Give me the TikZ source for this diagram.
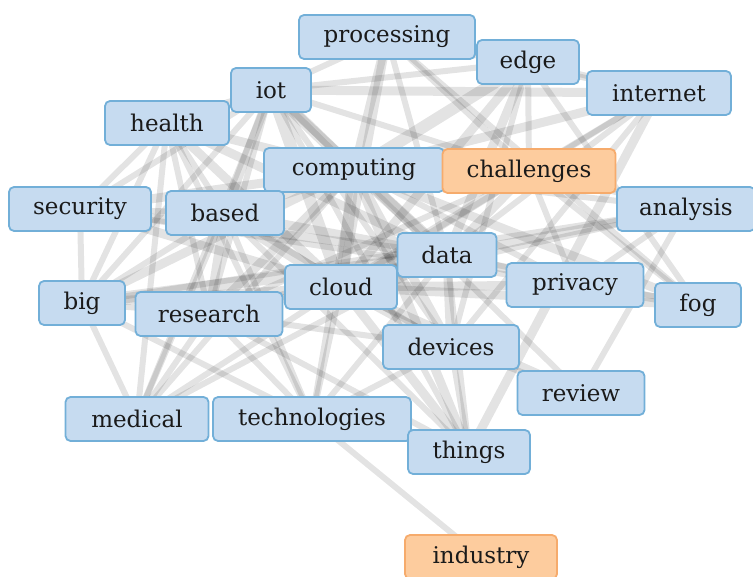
\documentclass[tikz,border=0pt]{standalone}
\usepackage{fontspec}
\setmainfont{DejaVu Serif}
\usetikzlibrary{backgrounds}
\definecolor{kwfill}{HTML}{C6DBF0}
\definecolor{kwline}{HTML}{72AFD8}
\definecolor{hotfill}{HTML}{FDCC9E}
\definecolor{hotline}{HTML}{F6AB6C}
\definecolor{textc}{HTML}{1A1A1A}
\begin{document}
\begin{tikzpicture}[x=1pt,y=-1pt,
  kw/.style={draw=kwline, fill=kwfill, line width=1.8pt, rounded corners=5pt, inner sep=0pt,
    minimum height=44pt, font=\fontsize{23}{23}\selectfont, text=textc},
  hot/.style={kw, draw=hotline, fill=hotfill},
  lk/.style={draw=black, draw opacity=0.11, line width=6pt},
  lkb/.style={lk, line width=9pt},
  lkc/.style={lk, line width=12pt}]
\useasboundingbox (0,0) rectangle (753,577);

\node[kw, minimum width=176pt] (proc) at (387,37) {processing};
\node[kw, minimum width=102pt] (edge) at (528,62) {edge};
\node[kw, minimum width=144pt] (inet) at (659,93) {internet};
\node[kw, minimum width=80pt] (iot) at (271,90) {iot};
\node[kw, minimum width=124pt] (health) at (167,123) {health};
\node[kw, minimum width=180pt] (comp) at (354,170) {computing};
\node[hot, minimum width=173pt] (chal) at (529,171) {challenges};
\node[kw, minimum width=142pt] (sec) at (80,209) {security};
\node[kw, minimum width=118pt] (based) at (225,213) {based};
\node[kw, minimum width=138pt] (anal) at (686,209) {analysis};
\node[kw, minimum width=99pt] (data) at (447,255) {data};
\node[kw, minimum width=112pt] (cloud) at (341,287) {cloud};
\node[kw, minimum width=137pt] (priv) at (575,285) {privacy};
\node[kw, minimum width=86pt] (fog) at (698,305) {fog};
\node[kw, minimum width=86pt] (big) at (82,303) {big};
\node[kw, minimum width=147pt] (res) at (209,314) {research};
\node[kw, minimum width=136pt] (dev) at (451,347) {devices};
\node[kw, minimum width=127pt] (rev) at (581,393) {review};
\node[kw, minimum width=143pt] (med) at (137,419) {medical};
\node[kw, minimum width=198pt] (tech) at (312,419) {technologies};
\node[kw, minimum width=122pt] (things) at (469,452) {things};
\node[hot, minimum width=152pt] (ind) at (481,557) {industry};

\begin{pgfonlayer}{background}
\foreach \a/\b in {comp/cloud,comp/data,comp/iot,comp/based,comp/edge,cloud/data,data/big,cloud/based,cloud/iot}
  \draw[lkc] (\a.center) -- (\b.center);
\foreach \a/\b in {comp/proc,comp/inet,comp/health,comp/sec,comp/big,comp/res,comp/dev,comp/things,comp/fog,comp/chal,
  cloud/proc,cloud/edge,cloud/health,cloud/sec,cloud/big,cloud/res,cloud/dev,cloud/things,cloud/fog,cloud/priv,cloud/chal,cloud/rev,
  data/iot,data/based,data/edge,data/health,data/sec,data/res,data/dev,data/priv,data/anal,data/chal,
  iot/inet,iot/based,iot/health,inet/things,priv/fog,based/res}
  \draw[lkb] (\a.center) -- (\b.center);
\foreach \a/\b in {comp/tech,comp/med,comp/priv,comp/anal,
  cloud/inet,cloud/tech,cloud/med,cloud/anal,
  data/proc,data/inet,data/things,data/tech,data/med,data/fog,
  iot/sec,iot/dev,iot/things,iot/proc,iot/edge,iot/big,iot/res,iot/med,iot/chal,iot/rev,
  based/health,based/sec,based/tech,based/med,based/big,based/things,based/dev,
  health/sec,health/med,health/big,health/res,health/tech,
  big/res,big/med,big/sec,big/anal,big/tech,
  res/med,res/tech,res/chal,res/dev,
  inet/dev,inet/chal,inet/proc,inet/edge,
  edge/proc,edge/fog,edge/dev,edge/chal,
  proc/chal,proc/fog,
  chal/priv,chal/anal,chal/fog,
  priv/sec,priv/anal,
  dev/rev,dev/things,dev/tech,
  rev/anal,ind/tech,things/res}
  \draw[lk] (\a.center) -- (\b.center);
\end{pgfonlayer}
\end{tikzpicture}
\end{document}
